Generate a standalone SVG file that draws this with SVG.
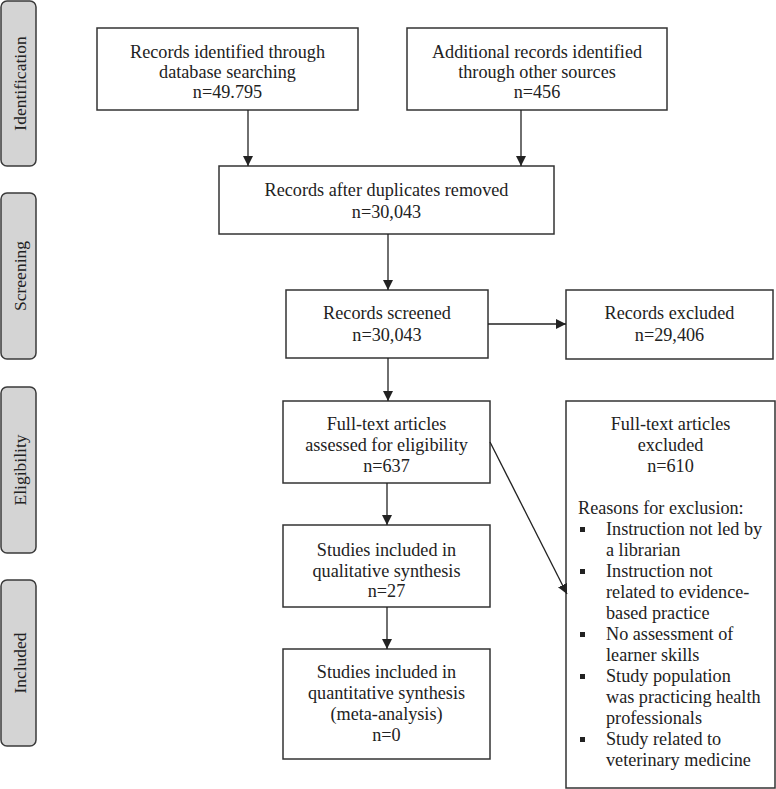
<svg xmlns="http://www.w3.org/2000/svg" width="776" height="789" viewBox="0 0 776 789">
<defs>
<style>
.stage rect{fill:#d4d4d4;stroke:#3a3a3a;stroke-width:1.5}
.stage text{font-family:"Liberation Serif","Times New Roman",serif;font-size:17.5px;fill:#222;text-anchor:middle}
.box rect{fill:#fff;stroke:#333;stroke-width:1.5}
.box text{font-family:"Liberation Serif","Times New Roman",serif;font-size:18.2px;fill:#222;text-anchor:middle}
.box text.l{text-anchor:start}
.box rect.bul{fill:#222;stroke:none}
.conn line{stroke:#222;stroke-width:1.3;fill:none}
</style>
<marker id="ah" viewBox="0 0 10 10" refX="10" refY="5" markerWidth="10" markerHeight="10" markerUnits="userSpaceOnUse" orient="auto">
<path d="M0,0 L10,5 L0,10 z" fill="#222"/>
</marker>
</defs>
<rect width="776" height="789" fill="#fff"/>

<g id="stage-identification" class="stage">
<rect x="1" y="1" width="35" height="165" rx="6"/>
<text transform="translate(25.5,83.5) rotate(-90)">Identification</text>
</g>
<g id="stage-screening" class="stage">
<rect x="1" y="193" width="35" height="166" rx="6"/>
<text transform="translate(25.5,276) rotate(-90)">Screening</text>
</g>
<g id="stage-eligibility" class="stage">
<rect x="1" y="387" width="35" height="166" rx="6"/>
<text transform="translate(25.5,470) rotate(-90)">Eligibility</text>
</g>
<g id="stage-included" class="stage">
<rect x="1" y="580" width="35" height="166" rx="6"/>
<text transform="translate(25.5,663) rotate(-90)">Included</text>
</g>

<g id="n-db" class="box">
<rect x="97" y="28" width="261" height="82"/>
<text x="227.5" y="58">Records identified through</text>
<text x="227.5" y="78">database searching</text>
<text x="227.5" y="98">n=49.795</text>
</g>
<g id="n-other" class="box">
<rect x="407" y="28" width="260" height="82"/>
<text x="537" y="58">Additional records identified</text>
<text x="537" y="78">through other sources</text>
<text x="537" y="98">n=456</text>
</g>
<g id="n-dup" class="box">
<rect x="219" y="166" width="335" height="68"/>
<text x="386.5" y="196">Records after duplicates removed</text>
<text x="386.5" y="217.5">n=30,043</text>
</g>
<g id="n-screened" class="box">
<rect x="286" y="290" width="202" height="68"/>
<text x="387" y="319">Records screened</text>
<text x="387" y="341">n=30,043</text>
</g>
<g id="n-excluded" class="box">
<rect x="566" y="290" width="207" height="69"/>
<text x="669.5" y="319">Records excluded</text>
<text x="669.5" y="341">n=29,406</text>
</g>
<g id="n-fulltext" class="box">
<rect x="283" y="401" width="207" height="82"/>
<text x="386.5" y="430">Full-text articles</text>
<text x="386.5" y="451">assessed for eligibility</text>
<text x="386.5" y="471.5">n=637</text>
</g>
<g id="n-qual" class="box">
<rect x="283" y="525" width="207" height="82"/>
<text x="386.5" y="556">Studies included in</text>
<text x="386.5" y="576.5">qualitative synthesis</text>
<text x="386.5" y="597">n=27</text>
</g>
<g id="n-quant" class="box">
<rect x="283" y="649" width="207" height="110"/>
<text x="386.5" y="678">Studies included in</text>
<text x="386.5" y="699">quantitative synthesis</text>
<text x="386.5" y="720">(meta-analysis)</text>
<text x="386.5" y="741">n=0</text>
</g>
<g id="n-ftexcluded" class="box">
<rect x="566" y="401" width="209" height="387"/>
<text x="670.5" y="430">Full-text articles</text>
<text x="670.5" y="451">excluded</text>
<text x="670.5" y="472">n=610</text>
<text class="l" x="578" y="514">Reasons for exclusion:</text>
<rect class="bul" x="580" y="527" width="5" height="5"/>
<text class="l" x="606" y="535">Instruction not led by</text>
<text class="l" x="606" y="556">a librarian</text>
<rect class="bul" x="580" y="569" width="5" height="5"/>
<text class="l" x="606" y="577">Instruction not</text>
<text class="l" x="606" y="598">related to evidence-</text>
<text class="l" x="606" y="619">based practice</text>
<rect class="bul" x="580" y="632" width="5" height="5"/>
<text class="l" x="606" y="640">No assessment of</text>
<text class="l" x="606" y="661">learner skills</text>
<rect class="bul" x="580" y="674" width="5" height="5"/>
<text class="l" x="606" y="682">Study population</text>
<text class="l" x="606" y="703">was practicing health</text>
<text class="l" x="606" y="724">professionals</text>
<rect class="bul" x="580" y="737" width="5" height="5"/>
<text class="l" x="606" y="745">Study related to</text>
<text class="l" x="606" y="766">veterinary medicine</text>
</g>

<g id="connectors" class="conn">
<line x1="248" y1="110" x2="248" y2="166" marker-end="url(#ah)"/>
<line x1="521" y1="110" x2="521" y2="166" marker-end="url(#ah)"/>
<line x1="388" y1="234" x2="388" y2="290" marker-end="url(#ah)"/>
<line x1="488" y1="324" x2="566" y2="324" marker-end="url(#ah)"/>
<line x1="388" y1="358" x2="388" y2="401" marker-end="url(#ah)"/>
<line x1="387" y1="483" x2="387" y2="525" marker-end="url(#ah)"/>
<line x1="387" y1="607" x2="387" y2="649" marker-end="url(#ah)"/>
<line x1="490" y1="442" x2="567" y2="594" marker-end="url(#ah)"/>
</g>
</svg>
